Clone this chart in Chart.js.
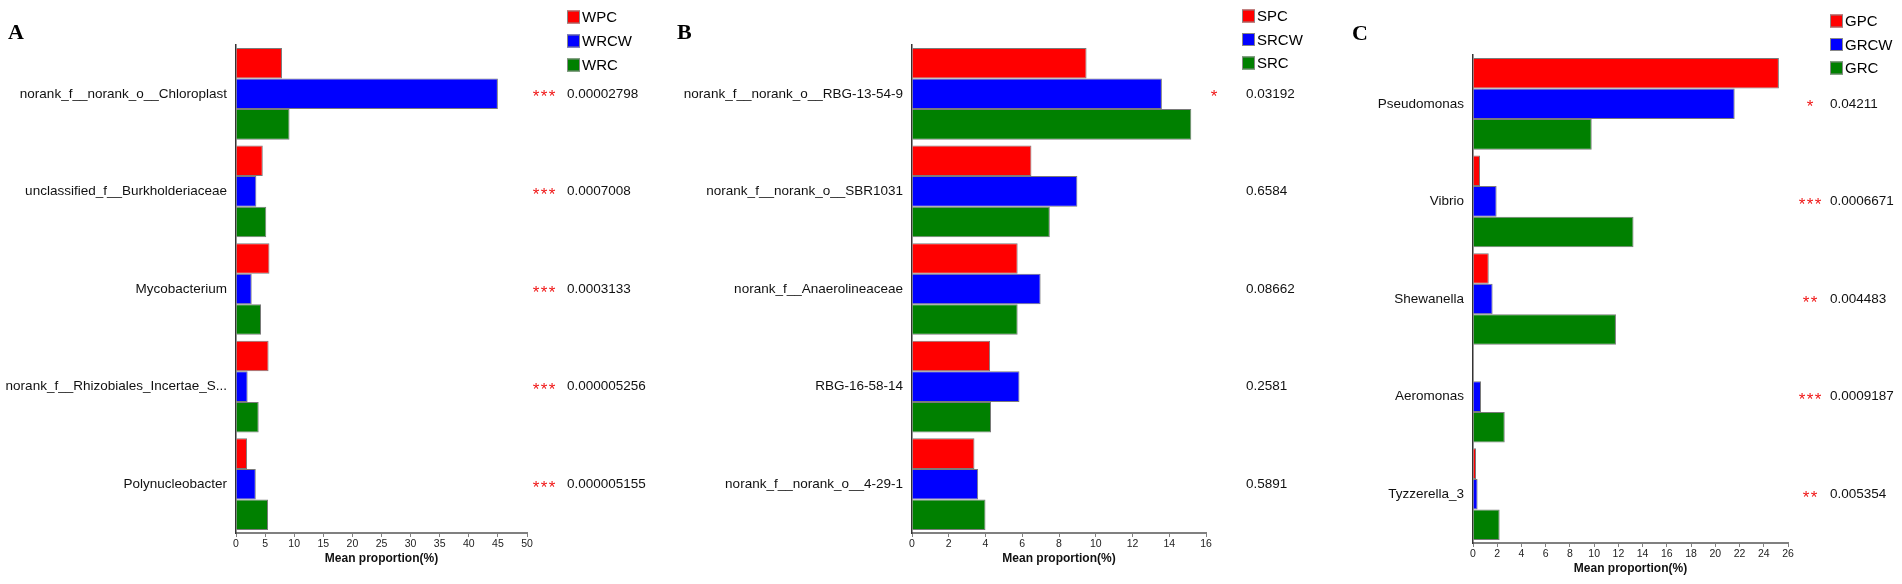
<!DOCTYPE html>
<html>
<head>
<meta charset="utf-8">
<script src="https://cdn.jsdelivr.net/npm/chart.js@4.4.1/dist/chart.umd.min.js"></script>
<style>
  html, body { margin: 0; padding: 0; background: #fff; }
  #wrap { position: relative; width: 1902px; height: 584px; overflow: hidden; background: #fff; }
  #wrap canvas { position: absolute; left: 0; top: 0; }
</style>
</head>
<body>
<div id="wrap">
  <canvas id="chartA" width="1902" height="584"></canvas>
  <canvas id="chartB" width="1902" height="584"></canvas>
  <canvas id="chartC" width="1902" height="584"></canvas>
</div>
<script>
// ---- panel A (W groups) ----
var catsA = ["norank_f__norank_o__Chloroplast", "unclassified_f__Burkholderiaceae", "Mycobacterium",
             "norank_f__Rhizobiales_Incertae_S...", "Polynucleobacter"];
var groupsA = ["WPC", "WRCW", "WRC"];
var wpc  = [7.9, 4.6, 5.75, 5.6, 1.9];
var wrcw = [45.0, 3.5, 2.7, 2.0, 3.4];
var wrc  = [9.2, 5.2, 4.3, 3.9, 5.5];
var pA = ["0.00002798", "0.0007008", "0.0003133", "0.000005256", "0.000005155"];
var starsA = ["***", "***", "***", "***", "***"];

// ---- panel B (S groups) ----
var catsB = ["norank_f__norank_o__RBG-13-54-9", "norank_f__norank_o__SBR1031", "norank_f__Anaerolineaceae",
             "RBG-16-58-14", "norank_f__norank_o__4-29-1"];
var groupsB = ["SPC", "SRCW", "SRC"];
var spc  = [9.5, 6.5, 5.75, 4.25, 3.4];
var srcw = [13.6, 9.0, 7.0, 5.85, 3.6];
var src  = [15.2, 7.5, 5.75, 4.3, 4.0];
var pB = ["0.03192", "0.6584", "0.08662", "0.2581", "0.5891"];
var starsB = ["*", "", "", "", ""];

// ---- panel C (G groups) ----
var catsC = ["Pseudomonas", "Vibrio", "Shewanella", "Aeromonas", "Tyzzerella_3"];
var groupsC = ["GPC", "GRCW", "GRC"];
var gpc  = [25.25, 0.58, 1.3, 0.03, 0.25];
var grcw = [21.6, 1.95, 1.62, 0.66, 0.38];
var grc  = [9.8, 13.25, 11.8, 2.62, 2.2];
var pC = ["0.04211", "0.0006671", "0.004483", "0.0009187", "0.005354"];
var starsC = ["*", "***", "**", "***", "**"];

var barColors = ["#FF0000", "#0000FF", "#008000"];
var fontSans = "'Liberation Sans', Arial, Helvetica, sans-serif";
Chart.defaults.font.family = fontSans;

// draws panel letter, legend, stars and p values
var panelExtras = {
  id: "panelExtras",
  afterDraw: function (chart, args, opts) {
    var ctx = chart.ctx;
    var yScale = chart.scales.y;
    ctx.save();

    ctx.fillStyle = "#000";
    ctx.textAlign = "left";
    ctx.textBaseline = "alphabetic";
    ctx.font = "bold 22px 'Liberation Serif', 'Times New Roman', serif";
    ctx.fillText(opts.letter, opts.letterX, opts.letterY);

    // legend
    ctx.textBaseline = "middle";
    ctx.font = "15px " + fontSans;
    for (var i = 0; i < chart.data.datasets.length; i++) {
      var ds = chart.data.datasets[i];
      var ly = opts.legendY + i * opts.legendGap;
      ctx.fillStyle = ds.backgroundColor;
      ctx.fillRect(opts.legendX, ly - 6.5, 13, 13);
      ctx.strokeStyle = "#888";
      ctx.lineWidth = 1;
      ctx.strokeRect(opts.legendX + 0.5, ly - 6, 12, 12);
      ctx.fillStyle = "#000";
      ctx.fillText(ds.label, opts.legendX + 15, ly + 1);
    }

    // significance + p value
    for (var j = 0; j < opts.pvals.length; j++) {
      var y = yScale.getPixelForValue(j);
      ctx.fillStyle = "#111";
      ctx.textAlign = "left";
      ctx.font = "13.5px " + fontSans;
      ctx.fillText(opts.pvals[j], opts.pX, y);
      if (opts.stars[j]) {
        ctx.fillStyle = "#F01818";
        ctx.textAlign = "center";
        ctx.font = "17px " + fontSans;
        ctx.fillText(opts.stars[j].split("").join("\u200A"), opts.starX, y + 4);
      }
    }
    ctx.restore();
  }
};

var makeChart = function (id, box, cats, names, series, maxX, step, extras) {
  var datasets = [];
  for (var i = 0; i < series.length; i++) {
    datasets.push({
      label: names[i],
      data: series[i],
      backgroundColor: barColors[i],
      borderColor: "#7a7a7a",
      borderWidth: 1,
      categoryPercentage: 0.94,
      barPercentage: 1.0
    });
  }
  // y axis box wide enough that the long labels are not clipped
  var yw = Math.min(box.left, 300), xh = 40;
  return new Chart(document.getElementById(id), {
    type: "bar",
    data: { labels: cats, datasets: datasets },
    plugins: [panelExtras],
    options: {
      indexAxis: "y",
      responsive: false,
      animation: false,
      devicePixelRatio: 1,
      layout: {
        padding: { left: box.left - yw, top: box.top, right: 1902 - box.right, bottom: 584 - box.bottom - xh }
      },
      plugins: {
        legend: { display: false },
        tooltip: { enabled: false },
        panelExtras: extras
      },
      scales: {
        x: {
          min: 0,
          max: maxX,
          ticks: { stepSize: step, font: { size: 10.5 }, color: "#222", padding: 1, maxRotation: 0, autoSkip: false },
          grid: { drawOnChartArea: false, drawTicks: true, tickLength: 4, color: "#808080" },
          border: { color: "#808080", width: 2 },
          title: {
            display: true,
            text: "Mean proportion(%)",
            color: "#111",
            font: { size: 12, weight: "bold" },
            padding: { top: 3, bottom: 7 }
          },
          afterFit: function (s) { s.height = xh; }
        },
        y: {
          ticks: { font: { size: 13.5 }, color: "#111", padding: 9 },
          grid: { display: false, drawTicks: false },
          border: { color: "#333", width: 1.5 },
          afterFit: function (s) { s.width = yw; }
        }
      }
    }
  });
};

makeChart("chartA", { left: 236, right: 527, top: 45, bottom: 533 }, catsA, groupsA, [wpc, wrcw, wrc], 50, 5, {
  letter: "A", letterX: 8, letterY: 39,
  legendX: 567, legendY: 17, legendGap: 24,
  pX: 567, starX: 544, pvals: pA, stars: starsA
});

makeChart("chartB", { left: 912, right: 1206, top: 45, bottom: 533 }, catsB, groupsB, [spc, srcw, src], 16, 2, {
  letter: "B", letterX: 677, letterY: 39,
  legendX: 1242, legendY: 16, legendGap: 23.5,
  pX: 1246, starX: 1214, pvals: pB, stars: starsB
});

makeChart("chartC", { left: 1473, right: 1788, top: 55, bottom: 543 }, catsC, groupsC, [gpc, grcw, grc], 26, 2, {
  letter: "C", letterX: 1352, letterY: 40,
  legendX: 1830, legendY: 21, legendGap: 23.5,
  pX: 1830, starX: 1810, pvals: pC, stars: starsC
});
</script>
</body>
</html>
